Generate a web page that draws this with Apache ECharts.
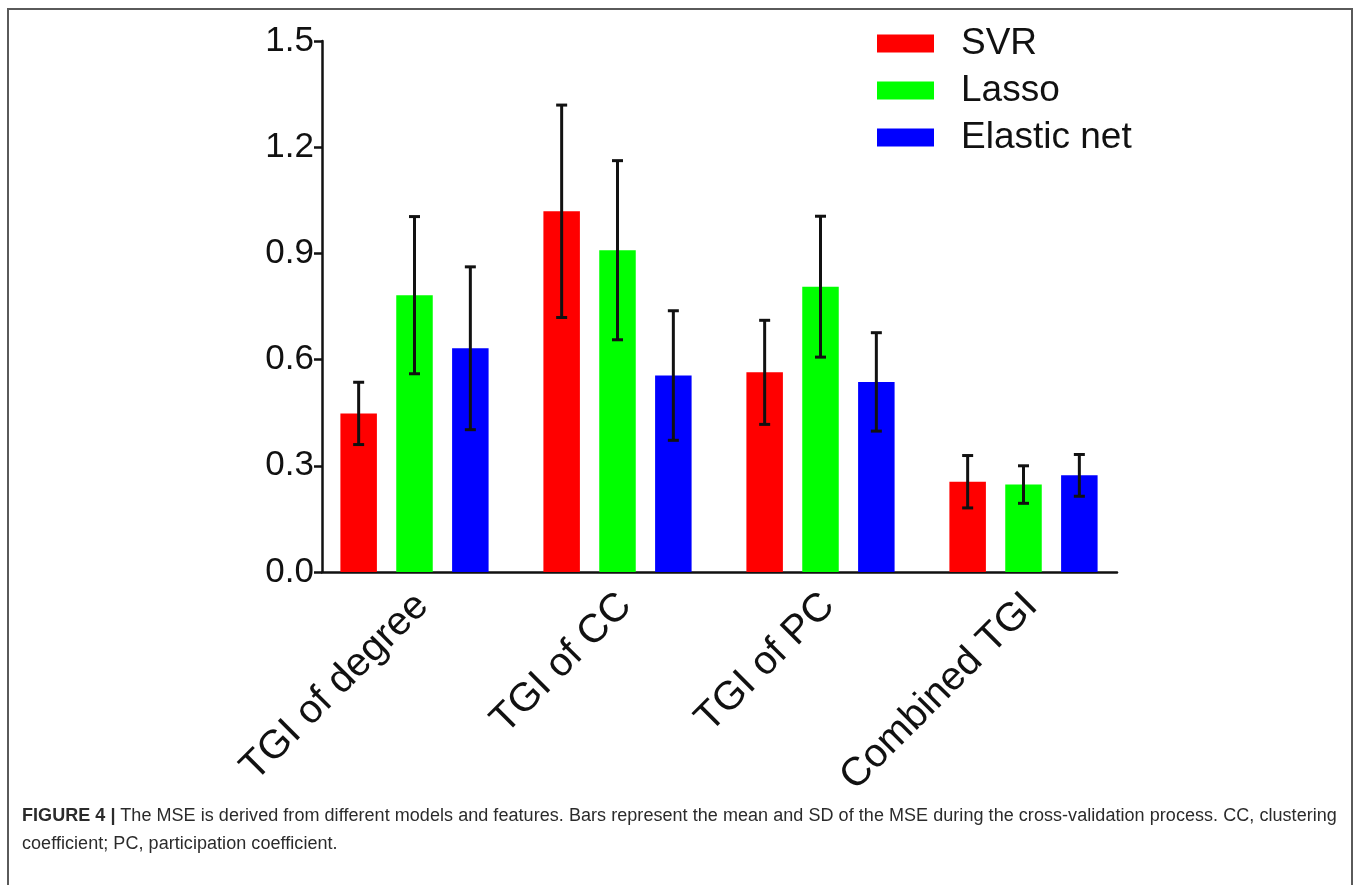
<!DOCTYPE html>
<html>
<head>
<meta charset="utf-8">
<script src="https://cdn.jsdelivr.net/npm/echarts@6/dist/echarts.min.js"></script>
<style>
  html, body { margin: 0; padding: 0; background: #fff; width: 1357px; height: 885px; overflow: hidden; }
  #frame { position: absolute; left: 7px; top: 8px; width: 1346px; height: 900px; border: 2px solid #5a5a5a; box-sizing: border-box; }
  #chart { position: absolute; left: 0; top: 0; width: 1357px; height: 885px; }
  #caption { position: absolute; left: 22px; top: 801px; width: 1330px; font-family: "Liberation Sans", Arial, sans-serif; font-size: 18px; letter-spacing: 0.05px; line-height: 28px; color: #2b2b2b; white-space: nowrap; }
  #caption b { font-weight: bold; }
</style>
</head>
<body>
<div id="frame"></div>
<div id="chart"></div>
<div id="caption"><b>FIGURE 4 |</b> The MSE is derived from different models and features. Bars represent the mean and SD of the MSE during the cross-validation process. CC, clustering<br>coefficient; PC, participation coefficient.</div>
<script>
// ---- data ----
var categories = ['TGI of degree', 'TGI of CC', 'TGI of PC', 'Combined TGI'];
var seriesNames = ['SVR', 'Lasso', 'Elastic net'];
var svrMean = [0.448, 1.019, 0.564, 0.255];
var svrSD = [0.088, 0.300, 0.147, 0.074];
var lassoMean = [0.782, 0.909, 0.806, 0.247];
var lassoSD = [0.222, 0.253, 0.199, 0.053];
var enetMean = [0.632, 0.555, 0.537, 0.273];
var enetSD = [0.230, 0.183, 0.139, 0.059];
var yTicks = [0, 0.3, 0.6, 0.9, 1.2, 1.5];
var colors = ['#ff0000', '#00ff00', '#0000ff'];

var means = [svrMean, lassoMean, enetMean];
var sds = [svrSD, lassoSD, enetSD];

var BAR_W = 36.5;
var BAR_GAP = 0.53;
var PITCH = BAR_W * (1 + BAR_GAP);
var FONT = 'Liberation Sans, Arial, sans-serif';

var chart = echarts.init(document.getElementById('chart'), null, { renderer: 'canvas' });

var series = [];
for (var s = 0; s < 3; s++) {
  series.push({
    name: seriesNames[s],
    type: 'bar',
    xAxisIndex: 0, yAxisIndex: 0,
    data: means[s],
    barWidth: BAR_W,
    barGap: (BAR_GAP * 100) + '%',
    itemStyle: { color: colors[s] },
    animation: false
  });
}
for (var s2 = 0; s2 < 3; s2++) {
  (function (si) {
    var d = [];
    for (var i = 0; i < categories.length; i++) d.push([i, means[si][i], sds[si][i]]);
    series.push({
      type: 'custom',
      xAxisIndex: 0, yAxisIndex: 0,
      data: d,
      z: 10,
      animation: false,
      renderItem: function (params, api) {
        var idx = api.value(0), m = api.value(1), sd = api.value(2);
        var top = api.coord([idx, m + sd]);
        var bot = api.coord([idx, m - sd]);
        var x = top[0] + (si - 1) * PITCH;
        var cap = 5.5;
        var st = { stroke: '#111', lineWidth: 3 };
        return {
          type: 'group',
          children: [
            { type: 'line', shape: { x1: x, y1: top[1], x2: x, y2: bot[1] }, style: st },
            { type: 'line', shape: { x1: x - cap, y1: top[1], x2: x + cap, y2: top[1] }, style: st },
            { type: 'line', shape: { x1: x - cap, y1: bot[1], x2: x + cap, y2: bot[1] }, style: st }
          ]
        };
      }
    });
  })(s2);
}

var yMin = yTicks[0], yMax = yTicks[yTicks.length - 1], yInt = yTicks[1] - yTicks[0];

chart.setOption({
  backgroundColor: 'transparent',
  animation: false,
  textStyle: { fontFamily: FONT },
  legend: {
    data: seriesNames,
    orient: 'vertical',
    left: 872, top: 20,
    icon: 'rect',
    itemWidth: 57, itemHeight: 18,
    itemGap: 10,
    textStyle: { fontSize: 37, lineHeight: 37, color: '#111', padding: [0, 0, 0, 22], fontFamily: FONT }
  },
  grid: [
    { left: 313, top: 41, width: 812, height: 531 },
    { left: 322, top: 41, width: 795, height: 531 }
  ],
  xAxis: [
    {
      type: 'category', gridIndex: 0, data: categories,
      axisLine: { show: false }, axisTick: { show: false },
      axisLabel: { rotate: 45, fontSize: 40, lineHeight: 22, verticalAlign: 'top', color: '#111', margin: 20, interval: 0, fontFamily: FONT }
    },
    {
      type: 'value', gridIndex: 1, min: 0, max: 1,
      axisLine: { show: true, lineStyle: { color: '#111', width: 2.5 } },
      axisTick: { show: false }, axisLabel: { show: false }, splitLine: { show: false }
    }
  ],
  yAxis: [
    { type: 'value', gridIndex: 0, min: yMin, max: yMax, interval: yInt, show: false, splitLine: { show: false } },
    {
      type: 'value', gridIndex: 1, min: yMin, max: yMax, interval: yInt,
      axisLine: { show: true, lineStyle: { color: '#111', width: 2.5 } },
      axisTick: { show: true, length: 8, lineStyle: { color: '#111', width: 2.5 } },
      axisLabel: { fontSize: 35, color: '#111', margin: 8, formatter: function (v) { return v.toFixed(1); }, fontFamily: FONT },
      splitLine: { show: false }
    }
  ],
  series: series
});
</script>
</body>
</html>
